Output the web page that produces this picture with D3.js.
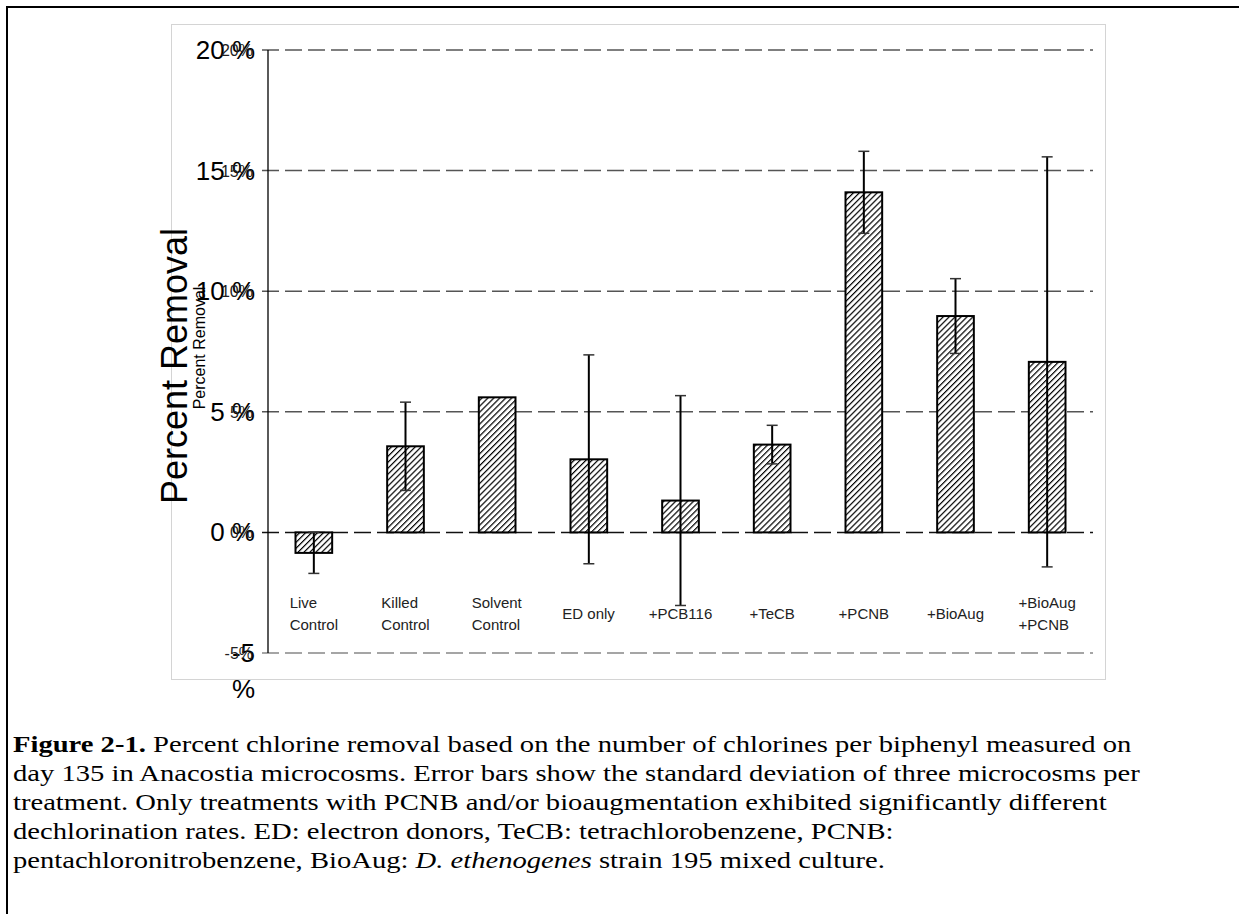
<!DOCTYPE html>
<html>
<head>
<meta charset="utf-8">
<script src="https://cdn.jsdelivr.net/npm/d3@7"></script>
<style>
  body { margin: 0; background: #fff; }
  svg { display: block; }
  .tick-big { font-family: Arial, "Liberation Sans", sans-serif; font-size: 26px; fill: #000; }
  .tick-small { font-family: Arial, "Liberation Sans", sans-serif; font-size: 16px; fill: #222; }
  .cat-label { font-family: Arial, "Liberation Sans", sans-serif; font-size: 15px; fill: #222; }
  .caption { font-family: "Liberation Serif", "Times New Roman", serif; font-size: 24px; fill: #000; }
</style>
</head>
<body>
<svg id="chart" width="1239" height="914"></svg>
<script>
// *******************
// data
// *******************
const categories = ["Live Control", "Killed Control", "Solvent Control", "ED only",
  "+PCB116", "+TeCB", "+PCNB", "+BioAug", "+BioAug +PCNB"];
const categoryLines = [["Live", "Control"], ["Killed", "Control"], ["Solvent", "Control"],
  ["ED only"], ["+PCB116"], ["+TeCB"], ["+PCNB"], ["+BioAug"], ["+BioAug", "+PCNB"]];
const removal = [-0.85, 3.57, 5.6, 3.03, 1.32, 3.64, 14.1, 8.97, 7.07];
const stdDev = [0.85, 1.83, null, 4.33, 4.35, 0.8, 1.7, 1.55, 8.5];
const yTicks = [-5, 0, 5, 10, 15, 20];
const captionLines = [
  "Percent chlorine removal based on the number of chlorines per biphenyl measured on",
  "day 135 in Anacostia microcosms. Error bars show the standard deviation of three microcosms per",
  "treatment. Only treatments with PCNB and/or bioaugmentation exhibited significantly different",
  "dechlorination rates. ED: electron donors, TeCB: tetrachlorobenzene, PCNB:",
  "pentachloronitrobenzene, BioAug: "
];

const svg = d3.select("#chart");

// outer page frame and the light chart-area box
svg.append("rect")
  .attr("x", 7).attr("y", 7).attr("width", 1260).attr("height", 940)
  .attr("fill", "none").attr("stroke", "#000").attr("stroke-width", 2);
svg.append("rect")
  .attr("x", 171.5).attr("y", 24.5).attr("width", 934).attr("height", 655)
  .attr("fill", "none").attr("stroke", "#d4d4d4").attr("stroke-width", 1);

// hatch pattern for the bars ("///")
const HATCH = 4.2;
svg.append("defs")
  .append("pattern")
  .attr("id", "hatch")
  .attr("patternUnits", "userSpaceOnUse")
  .attr("width", HATCH).attr("height", HATCH)
  .attr("patternTransform", "rotate(45)")
  .call((p) => {
    p.append("rect").attr("width", HATCH).attr("height", HATCH).attr("fill", "#fff");
    p.append("line")
      .attr("x1", 0).attr("y1", 0).attr("x2", 0).attr("y2", HATCH)
      .attr("stroke", "#000").attr("stroke-width", 2.4);
  });

const PLOT = { LEFT: 268, RIGHT: 1093, TOP: 50, BOTTOM: 653 };

const x = d3.scaleBand()
  .domain(categories)
  .range([PLOT.LEFT, PLOT.RIGHT])
  .paddingInner(0.6)
  .paddingOuter(0.3);

const y = d3.scaleLinear()
  .domain([-5, 20])
  .range([PLOT.BOTTOM, PLOT.TOP]);

// dashed gridlines
svg.append("g")
  .selectAll("line")
  .data(yTicks)
  .join("line")
  .attr("x1", PLOT.LEFT - 6)
  .attr("x2", PLOT.RIGHT)
  .attr("y1", (d) => y(d))
  .attr("y2", (d) => y(d))
  .attr("stroke", (d) => (d === 0 ? "#111" : d === -5 ? "#888" : "#555"))
  .attr("stroke-width", 1.5)
  .attr("stroke-dasharray", "17,6");

// y axis line
svg.append("line")
  .attr("x1", PLOT.LEFT).attr("x2", PLOT.LEFT)
  .attr("y1", y(20)).attr("y2", y(-5))
  .attr("stroke", "#000").attr("stroke-width", 1.3);

// tick labels: a large and a small copy overlapping, as in the original
const tickG = svg.append("g");
yTicks.forEach((v) => {
  const big = tickG.append("text")
    .attr("class", "tick-big")
    .attr("text-anchor", "end")
    .attr("x", 255)
    .attr("y", y(v) + 9);
  if (v < 0) {
    big.append("tspan").attr("x", 255).text(`${v}`);
    big.append("tspan").attr("x", 255).attr("dy", 36).text("%");
  } else {
    big.text(`${v} %`);
  }
  tickG.append("text")
    .attr("class", "tick-small")
    .attr("text-anchor", "end")
    .attr("x", 253)
    .attr("y", y(v) + 6)
    .text(`${v}%`);
});

// axis titles (large and small)
svg.append("text")
  .attr("transform", "translate(187,366) rotate(-90)")
  .attr("text-anchor", "middle")
  .style("font-family", "Arial, 'Liberation Sans', sans-serif")
  .style("font-size", "36px")
  .text("Percent Removal");
svg.append("text")
  .attr("transform", "translate(205,348) rotate(-90)")
  .attr("text-anchor", "middle")
  .style("font-family", "Arial, 'Liberation Sans', sans-serif")
  .style("font-size", "16px")
  .text("Percent Removal");

// bars
const rows = categories.map((c, i) => ({ cat: c, value: removal[i], sd: stdDev[i], lines: categoryLines[i] }));

svg.append("g")
  .selectAll("rect")
  .data(rows)
  .join("rect")
  .attr("x", (d) => x(d.cat))
  .attr("width", x.bandwidth())
  .attr("y", (d) => y(Math.max(0, d.value)))
  .attr("height", (d) => Math.abs(y(d.value) - y(0)))
  .attr("fill", "url(#hatch)")
  .attr("stroke", "#000")
  .attr("stroke-width", 2);

// error bars
const errG = svg.append("g")
  .selectAll("g")
  .data(rows.filter((d) => d.sd !== null))
  .join("g")
  .attr("transform", (d) => `translate(${x(d.cat) + x.bandwidth() / 2},0)`);
errG.append("line")
  .attr("y1", (d) => y(d.value + d.sd))
  .attr("y2", (d) => y(d.value - d.sd))
  .attr("stroke", "#000").attr("stroke-width", 2);
errG.selectAll("line.cap")
  .data((d) => [d.value + d.sd, d.value - d.sd])
  .join("line")
  .attr("class", "cap")
  .attr("x1", -5.5).attr("x2", 5.5)
  .attr("y1", (v) => y(v)).attr("y2", (v) => y(v))
  .attr("stroke", "#333").attr("stroke-width", 1.5);

// category labels, lines left-aligned inside a centred block
const labelG = svg.append("g");
rows.forEach((d) => {
  const cx = x(d.cat) + x.bandwidth() / 2;
  const top = d.lines.length === 1 ? 619 : 608;
  const t = labelG.append("text").attr("class", "cat-label");
  d.lines.forEach((ln, k) => {
    t.append("tspan").attr("x", 0).attr("y", top + k * 22).text(ln);
  });
  const w = t.node().getBBox().width;
  t.attr("transform", `translate(${cx - w / 2},0)`);
});

// caption (the original's serif text is drawn a bit wide, so stretch it horizontally)
const cap = svg.append("g").attr("transform", "translate(13,0) scale(1.192,1)");
captionLines.forEach((ln, i) => {
  const t = cap.append("text")
    .attr("class", "caption")
    .attr("x", 0)
    .attr("y", 752 + i * 29);
  if (i === 0) {
    t.append("tspan").style("font-weight", "bold").text("Figure 2-1.");
    t.append("tspan").text(" " + ln);
  } else {
    t.append("tspan").text(ln);
  }
  if (i === captionLines.length - 1) {
    t.append("tspan").style("font-style", "italic").text("D. ethenogenes");
    t.append("tspan").text(" strain 195 mixed culture.");
  }
});
</script>
</body>
</html>
